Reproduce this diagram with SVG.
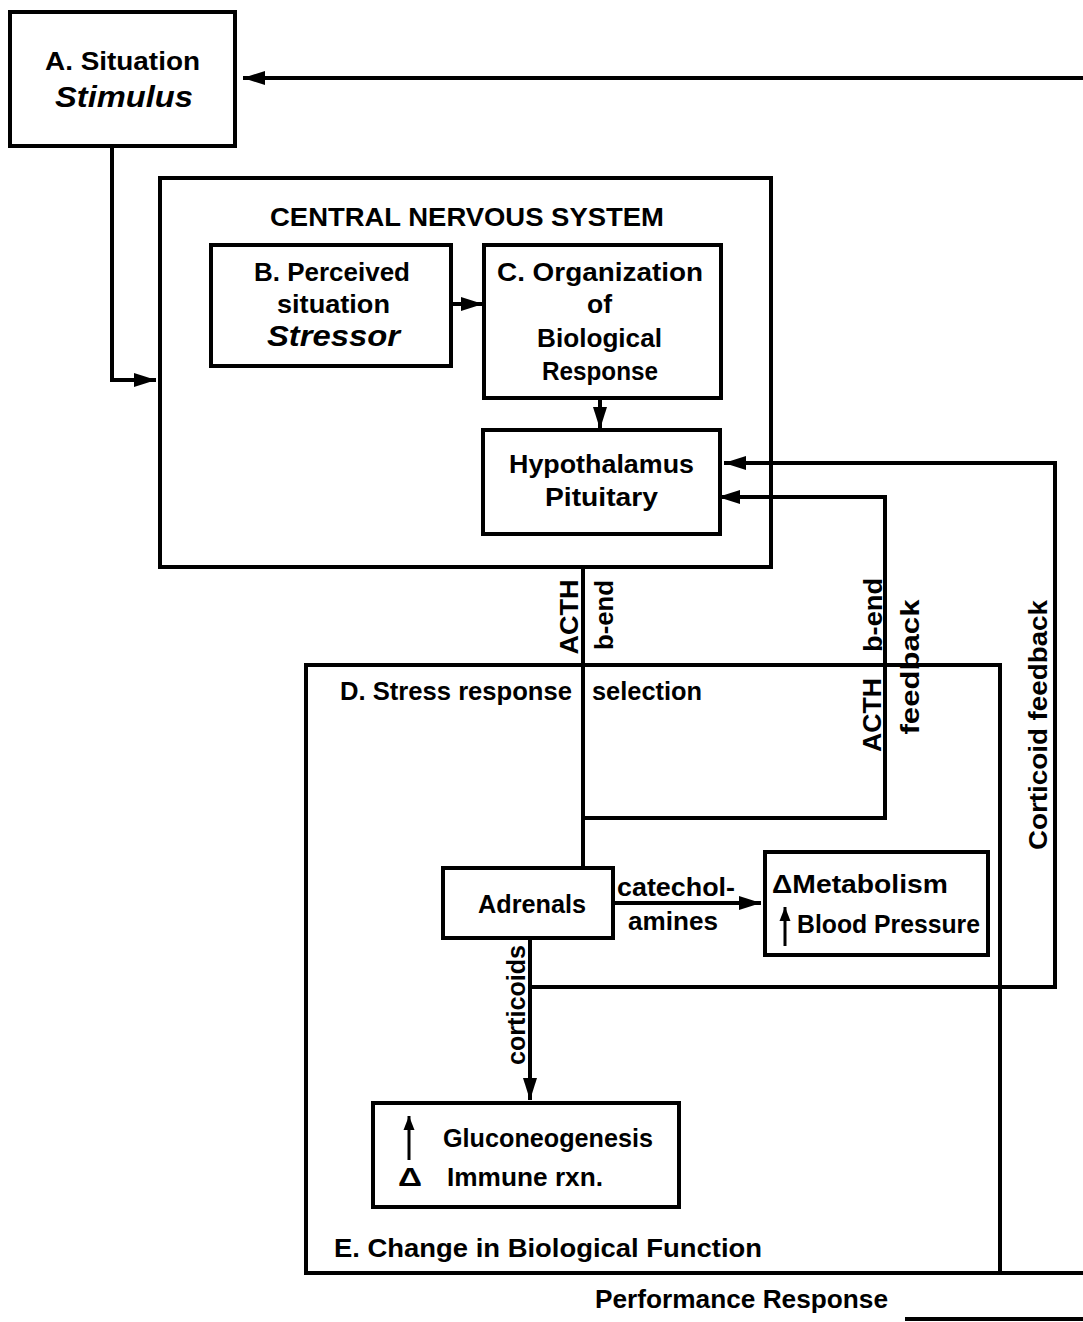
<svg xmlns="http://www.w3.org/2000/svg" width="1083" height="1322" viewBox="0 0 1083 1322">
<defs>
<marker id="ah" markerUnits="userSpaceOnUse" markerWidth="24" markerHeight="16" refX="22" refY="8" orient="auto">
<path d="M0,1 L22,8 L0,15 z" fill="#000"/>
</marker>
<marker id="sm" markerUnits="userSpaceOnUse" markerWidth="16" markerHeight="12" refX="14" refY="6" orient="auto">
<path d="M0,0.5 L14,6 L0,11.5 z" fill="#000"/>
</marker>
<style>
.box{fill:none;stroke:#000;stroke-width:4}
.ln{fill:none;stroke:#000;stroke-width:4;stroke-linejoin:miter}
.up{fill:none;stroke:#000;stroke-width:3}
text{font-family:"Liberation Sans",Arial,sans-serif;font-weight:bold;fill:#000;font-size:26px}
.it{font-style:italic;font-size:30px}
</style>
</defs>
<rect width="1083" height="1322" fill="#fff"/>

<g id="connectors">
<path class="ln" d="M1083,78 L243,78" marker-end="url(#ah)"/>
<path class="ln" d="M112,146 L112,380 L156,380" marker-end="url(#ah)"/>
<path class="ln" d="M451,304 L483,304" marker-end="url(#ah)"/>
<path class="ln" d="M600,398 L600,429" marker-end="url(#ah)"/>
<path class="ln" d="M583,567 L583,868"/>
<path class="ln" d="M583,818 L885,818 L885,497 L718,497" marker-end="url(#ah)"/>
<path class="ln" d="M530,987 L1055,987 L1055,463 L724,463" marker-end="url(#ah)"/>
<path class="ln" d="M613,903 L761,903" marker-end="url(#ah)"/>
<path class="ln" d="M530,938 L530,1100" marker-end="url(#ah)"/>
<path class="ln" d="M1000,1273 L1083,1273"/>
<path class="ln" d="M905,1319 L1083,1319"/>
<text transform="translate(578,617) rotate(-90)" text-anchor="middle" font-size="28" textLength="75" lengthAdjust="spacingAndGlyphs">ACTH</text>
<text transform="translate(613,615) rotate(-90)" text-anchor="middle" textLength="70" lengthAdjust="spacingAndGlyphs">b-end</text>
<text transform="translate(882,615) rotate(-90)" text-anchor="middle" textLength="74" lengthAdjust="spacingAndGlyphs">b-end</text>
<text transform="translate(881,715) rotate(-90)" text-anchor="middle" font-size="28" textLength="74" lengthAdjust="spacingAndGlyphs">ACTH</text>
<text transform="translate(919,667) rotate(-90)" text-anchor="middle" textLength="135" lengthAdjust="spacingAndGlyphs">feedback</text>
<text transform="translate(1047,725) rotate(-90)" text-anchor="middle" textLength="250" lengthAdjust="spacingAndGlyphs">Corticoid feedback</text>
<text transform="translate(525,1005) rotate(-90)" text-anchor="middle" textLength="120" lengthAdjust="spacingAndGlyphs">corticoids</text>
<text x="617" y="896" textLength="118" lengthAdjust="spacingAndGlyphs">catechol-</text>
<text x="628" y="930" textLength="90" lengthAdjust="spacingAndGlyphs">amines</text>
<text x="595" y="1308" textLength="293" lengthAdjust="spacingAndGlyphs">Performance Response</text>
</g>

<g id="nodeA">
<rect class="box" x="10" y="12" width="225" height="134"/>
<text x="45" y="70" textLength="155" lengthAdjust="spacingAndGlyphs">A. Situation</text>
<text class="it" x="55" y="107" font-size="28" textLength="138" lengthAdjust="spacingAndGlyphs">Stimulus</text>
</g>

<g id="cns">
<rect class="box" x="160" y="178" width="611" height="389"/>
<text x="270" y="226" font-size="30" textLength="394" lengthAdjust="spacingAndGlyphs">CENTRAL NERVOUS SYSTEM</text>
</g>

<g id="nodeB">
<rect class="box" x="211" y="245" width="240" height="121"/>
<text x="254" y="281" textLength="156" lengthAdjust="spacingAndGlyphs">B. Perceived</text>
<text x="277" y="313" textLength="113" lengthAdjust="spacingAndGlyphs">situation</text>
<text class="it" x="267" y="346" textLength="133" lengthAdjust="spacingAndGlyphs">Stressor</text>
</g>

<g id="nodeC">
<rect class="box" x="484" y="245" width="237" height="153"/>
<text x="497" y="281" textLength="206" lengthAdjust="spacingAndGlyphs">C. Organization</text>
<text x="587" y="313" textLength="25" lengthAdjust="spacingAndGlyphs">of</text>
<text x="537" y="347" textLength="125" lengthAdjust="spacingAndGlyphs">Biological</text>
<text x="542" y="380" textLength="116" lengthAdjust="spacingAndGlyphs">Response</text>
</g>

<g id="hypothalamus">
<rect class="box" x="483" y="430" width="237" height="104"/>
<text x="509" y="473" textLength="185" lengthAdjust="spacingAndGlyphs">Hypothalamus</text>
<text x="545" y="506" textLength="113" lengthAdjust="spacingAndGlyphs">Pituitary</text>
</g>

<g id="nodeDE">
<rect class="box" x="306" y="665" width="694" height="608"/>
<text x="340" y="700" textLength="232" lengthAdjust="spacingAndGlyphs">D. Stress response</text>
<text x="592" y="700" textLength="110" lengthAdjust="spacingAndGlyphs">selection</text>
<text x="334" y="1257" textLength="428" lengthAdjust="spacingAndGlyphs">E. Change in Biological Function</text>
</g>

<g id="adrenals">
<rect class="box" x="443" y="868" width="170" height="70"/>
<text x="478" y="913" textLength="108" lengthAdjust="spacingAndGlyphs">Adrenals</text>
</g>

<g id="metabolism">
<rect class="box" x="765" y="852" width="223" height="103"/>
<text x="772" y="893" textLength="176" lengthAdjust="spacingAndGlyphs">ΔMetabolism</text>
<path class="up" d="M785,946 L785,907" marker-end="url(#sm)"/>
<text x="797" y="933" textLength="183" lengthAdjust="spacingAndGlyphs">Blood Pressure</text>
</g>

<g id="gluconeogenesis">
<rect class="box" x="373" y="1103" width="306" height="104"/>
<path class="up" d="M409,1160 L409,1116" marker-end="url(#sm)"/>
<text x="443" y="1147" textLength="210" lengthAdjust="spacingAndGlyphs">Gluconeogenesis</text>
<text x="398" y="1186" textLength="24" lengthAdjust="spacingAndGlyphs">Δ</text>
<text x="447" y="1186" textLength="156" lengthAdjust="spacingAndGlyphs">Immune rxn.</text>
</g>
</svg>
